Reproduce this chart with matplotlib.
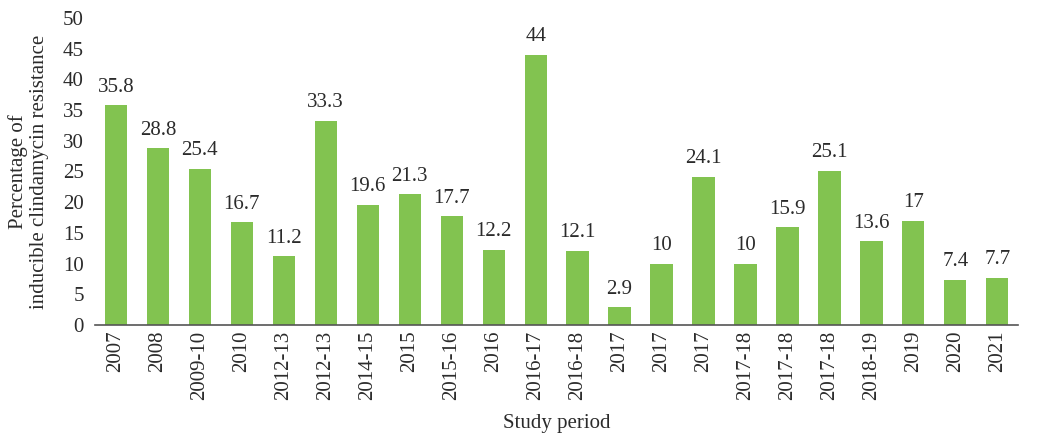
import matplotlib
matplotlib.use("Agg")
import matplotlib.pyplot as plt

periods = ["2007", "2008", "2009-10", "2010", "2012-13", "2012-13", "2014-15", "2015",
           "2015-16", "2016", "2016-17", "2016-18", "2017", "2017", "2017", "2017-18",
           "2017-18", "2017-18", "2018-19", "2019", "2020", "2021"]
values = [35.8, 28.8, 25.4, 16.7, 11.2, 33.3, 19.6, 21.3, 17.7, 12.2, 44, 12.1,
          2.9, 10, 24.1, 10, 15.9, 25.1, 13.6, 17, 7.4, 7.7]
value_labels = ["35.8", "28.8", "25.4", "16.7", "11.2", "33.3", "19.6", "21.3", "17.7",
                "12.2", "44", "12.1", "2.9", "10", "24.1", "10", "15.9", "25.1", "13.6",
                "17", "7.4", "7.7"]
yticks = [0, 5, 10, 15, 20, 25, 30, 35, 40, 45, 50]

plt.rcParams['font.family'] = ['Liberation Serif', 'DejaVu Serif']
txt = '#2b2b2b'
fs = 15

fig = plt.figure(figsize=(10.38, 4.38), dpi=100)
ax = fig.add_axes([0.0915, 0.258, 0.8895, 0.701])
x = list(range(len(values)))
ax.bar(x, values, width=0.53, color='#82C350')
for xi, v, lab in zip(x, values, value_labels):
    ax.text(xi, v + 1.4, lab, ha='center', va='bottom', fontsize=fs, color=txt)

ax.set_xlim(-0.5, len(values) - 0.5)
ax.set_ylim(0, 50)
ax.set_yticks(yticks)
ax.set_yticklabels([str(t) for t in yticks], fontsize=fs, color=txt)
ax.set_xticks(x)
ax.set_xticklabels(periods, rotation=90, fontsize=fs, color=txt)
ax.tick_params(axis='both', length=0, pad=4)
ax.tick_params(axis='y', pad=8)
for s in ['top', 'right', 'left']:
    ax.spines[s].set_visible(False)
ax.spines['bottom'].set_color('#555555')
ax.spines['bottom'].set_linewidth(1.2)
ax.set_ylabel("Percentage of\ninducible clindamycin resistance", fontsize=fs,
              color=txt, labelpad=10, linespacing=1.15)
ax.set_xlabel("Study period", fontsize=fs, color=txt, labelpad=10)

fig.savefig("out.png", dpi=100)
